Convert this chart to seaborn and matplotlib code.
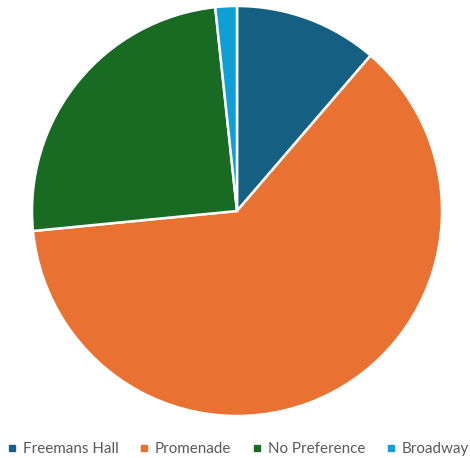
import matplotlib
matplotlib.use("Agg")
import matplotlib.pyplot as plt
from matplotlib.lines import Line2D
import seaborn as sns

# Preferred venue responses
venues = ["Freemans Hall", "Promenade", "No Preference", "Broadway"]
responses = [20, 110, 44, 3]
venue_colors = ["#156082", "#E97132", "#196B24", "#0F9ED5"]

sns.set_theme(style="white")
plt.rcParams["font.family"] = ["Lato", "DejaVu Sans"]
palette = sns.color_palette(venue_colors)

fig = plt.figure(figsize=(4.70, 4.58), dpi=100)
ax = fig.add_axes([32 / 470, 42 / 458, 410 / 470, 410 / 458])

ax.pie(
    responses,
    colors=palette,
    startangle=90,
    counterclock=False,
    radius=1.0,
    wedgeprops=dict(edgecolor="white", linewidth=1.8),
)
ax.set_xlim(-1.0, 1.0)
ax.set_ylim(-1.0, 1.0)
ax.set_aspect("equal")
ax.axis("off")

handles = [
    Line2D([0], [0], marker="s", linestyle="none", markersize=5,
           markerfacecolor=c, markeredgecolor=c)
    for c in palette
]
fig.legend(
    handles, venues,
    loc="center", bbox_to_anchor=(0.507, 9 / 458), ncol=4,
    frameon=False, fontsize=10.9, labelcolor="#595959",
    handlelength=0.6, handletextpad=0.4, columnspacing=1.4,
    borderpad=0.0, borderaxespad=0.0,
)

fig.savefig("out.png", dpi=100, facecolor="white")
